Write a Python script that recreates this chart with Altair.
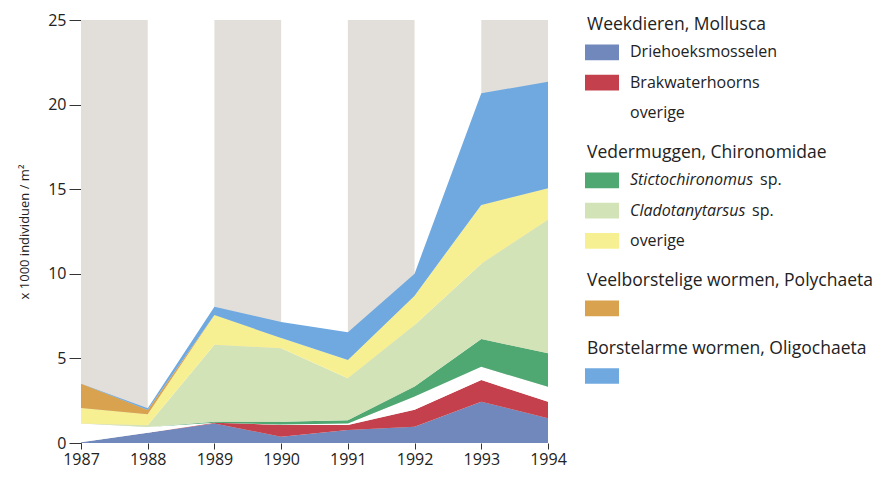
import altair as alt
import pandas as pd

# ---------------- data ----------------
years = [1987, 1988, 1989, 1990, 1991, 1992, 1993, 1994]

driehoeksmosselen    = [0.05, 0.60, 1.15, 0.37, 0.77, 0.96, 2.44, 1.46]
brakwaterhoorns      = [0.00, 0.00, 0.05, 0.70, 0.30, 1.00, 1.28, 0.98]
overige_mollusca     = [1.10, 0.35, 0.00, 0.03, 0.08, 0.79, 0.78, 0.89]
stictochironomus     = [0.00, 0.00, 0.05, 0.15, 0.20, 0.59, 1.65, 1.97]
cladotanytarsus      = [0.00, 0.10, 4.55, 4.35, 2.48, 3.64, 4.45, 7.90]
overige_chironomidae = [0.92, 0.65, 1.77, 0.60, 1.07, 1.73, 3.47, 1.85]
polychaeta           = [1.43, 0.25, 0.00, 0.00, 0.00, 0.00, 0.00, 0.00]
oligochaeta          = [0.00, 0.10, 0.48, 0.95, 1.65, 1.30, 6.60, 6.30]

series_names = ["Driehoeksmosselen", "Brakwaterhoorns", "overige Mollusca",
                "Stictochironomus sp.", "Cladotanytarsus sp.", "overige Chironomidae",
                "Polychaeta", "Oligochaeta"]
series_values = [driehoeksmosselen, brakwaterhoorns, overige_mollusca,
                 stictochironomus, cladotanytarsus, overige_chironomidae,
                 polychaeta, oligochaeta]
series_colors = ["#7088bb", "#c4404c", "#ffffff", "#4fa872",
                 "#d3e3b8", "#f7f093", "#d9a24e", "#6fa9e0"]

band_start = [1987, 1989, 1991, 1993]
band_end = [1988, 1990, 1992, 1994]

y_ticks = [0, 5, 10, 15, 20, 25]
y_title = "x 1000 individuen / m²"

legend_headers = ["Weekdieren, Mollusca", "Vedermuggen, Chironomidae",
                  "Veelborstelige wormen, Polychaeta", "Borstelarme wormen, Oligochaeta"]
legend_item_labels = [["Driehoeksmosselen", "Brakwaterhoorns", "overige"],
                      ["Stictochironomus", "Cladotanytarsus", "overige"],
                      [""], [""]]
legend_item_series = [[0, 1, 2], [3, 4, 5], [6], [7]]
legend_item_italic = [[False, False, False], [True, True, False], [False], [False]]

FONT = "Open Sans"
TXT = "#222222"

# ---------------- tables ----------------
rows = []
for k, (name, vals) in enumerate(zip(series_names, series_values)):
    for yr, v in zip(years, vals):
        rows.append({"year": yr, "value": v, "series": name, "order": k})
df = pd.DataFrame(rows)

bands_df = pd.DataFrame({"start": band_start, "end": band_end})

# legend row layout (in "row units"): header->item, item->item, item->next header
STEP_HEAD, STEP_ITEM, STEP_GROUP = 0.90, 1.0, 1.33
leg_rows = []
pos = 0.0
for g, header in enumerate(legend_headers):
    if g > 0:
        pos += STEP_GROUP
    leg_rows.append({"pos": pos, "kind": "header", "text": header, "series": "", "italic": False})
    for j, (lab, s, it) in enumerate(zip(legend_item_labels[g], legend_item_series[g], legend_item_italic[g])):
        pos += STEP_HEAD if j == 0 else STEP_ITEM
        leg_rows.append({"pos": pos, "kind": "item", "text": lab,
                         "series": series_names[s], "italic": it})
leg_df = pd.DataFrame(leg_rows)
last_pos = pos

# ---------------- main chart ----------------
color_scale = alt.Scale(domain=series_names, range=series_colors)
x_scale = alt.Scale(domain=[1987, 1994], nice=False, zero=False)
y_scale = alt.Scale(domain=[0, 25], nice=False)

x_axis = alt.Axis(values=years, format="d", title=None, domain=False, grid=False,
                  tickSize=6, labelPadding=2, labelFlush=False)
y_axis = alt.Axis(values=y_ticks, title=y_title, grid=False, tickSize=12,
                  labelPadding=3, titlePadding=16)

bands = alt.Chart(bands_df).mark_rect(color="#e2dfda").encode(
    x=alt.X("start:Q", scale=x_scale, axis=x_axis),
    x2="end:Q",
    y=alt.Y(datum=0, scale=y_scale, axis=y_axis),
    y2=alt.datum(25),
)

areas = alt.Chart(df).mark_area(interpolate="linear").encode(
    x=alt.X("year:Q", scale=x_scale, axis=x_axis),
    y=alt.Y("value:Q", stack="zero", scale=y_scale, axis=y_axis),
    color=alt.Color("series:N", scale=color_scale, legend=None),
    order=alt.Order("order:Q", sort="ascending"),
)

main = alt.layer(bands, areas).properties(width=467, height=423)

# ---------------- legend panel ----------------
LEG_H = 423
top_px, bottom_px = 5.0, 356.0
unit = (bottom_px - top_px) / last_pos
leg_scale = alt.Scale(domain=[-top_px / unit, (LEG_H - top_px) / unit],
                      reverse=True, nice=False, zero=False)
leg_base = alt.Chart(leg_df)

swatches = leg_base.transform_filter("datum.kind == 'item'").transform_calculate(
    y1="datum.pos - 0.26", y2="datum.pos + 0.26"
).mark_rect().encode(
    x=alt.value(0), x2=alt.value(34),
    y=alt.Y("y1:Q", scale=leg_scale, axis=None), y2="y2:Q",
    color=alt.Color("series:N", scale=color_scale, legend=None),
)

headers = leg_base.transform_filter("datum.kind == 'header'").mark_text(
    align="left", baseline="middle", font=FONT, fontSize=17.5, color=TXT
).encode(x=alt.value(2), y=alt.Y("pos:Q", scale=leg_scale, axis=None), text="text:N")

items = leg_base.transform_filter("datum.kind == 'item' && !datum.italic").mark_text(
    align="left", baseline="middle", font=FONT, fontSize=16, color=TXT
).encode(x=alt.value(45), y=alt.Y("pos:Q", scale=leg_scale, axis=None), text="text:N")

items_it = leg_base.transform_filter("datum.kind == 'item' && datum.italic").mark_text(
    align="left", baseline="middle", font=FONT, fontSize=16, fontStyle="italic", color=TXT
).encode(x=alt.value(45), y=alt.Y("pos:Q", scale=leg_scale, axis=None), text="text:N")

sp1 = leg_base.transform_filter("datum.text == 'Stictochironomus'").mark_text(
    align="left", baseline="middle", font=FONT, fontSize=16, color=TXT, dx=130
).encode(x=alt.value(45), y=alt.Y("pos:Q", scale=leg_scale, axis=None), text=alt.value("sp."))

sp2 = leg_base.transform_filter("datum.text == 'Cladotanytarsus'").mark_text(
    align="left", baseline="middle", font=FONT, fontSize=16, color=TXT, dx=122
).encode(x=alt.value(45), y=alt.Y("pos:Q", scale=leg_scale, axis=None), text=alt.value("sp."))

legend = alt.layer(swatches, headers, items, items_it, sp1, sp2).properties(width=260, height=LEG_H)

chart = alt.hconcat(main, legend, spacing=18).properties(
    padding={"left": 10, "top": 4, "right": 0, "bottom": 6}
).configure_view(stroke=None).configure_axis(
    labelFont=FONT, labelFontSize=16, labelColor=TXT,
    titleFont=FONT, titleFontSize=13, titleColor=TXT, titleFontWeight="normal",
    domainColor="#333333", tickColor="#333333", domainWidth=1, tickWidth=1,
)

chart.save("out.html", embed_options={"renderer": "svg", "actions": False})
